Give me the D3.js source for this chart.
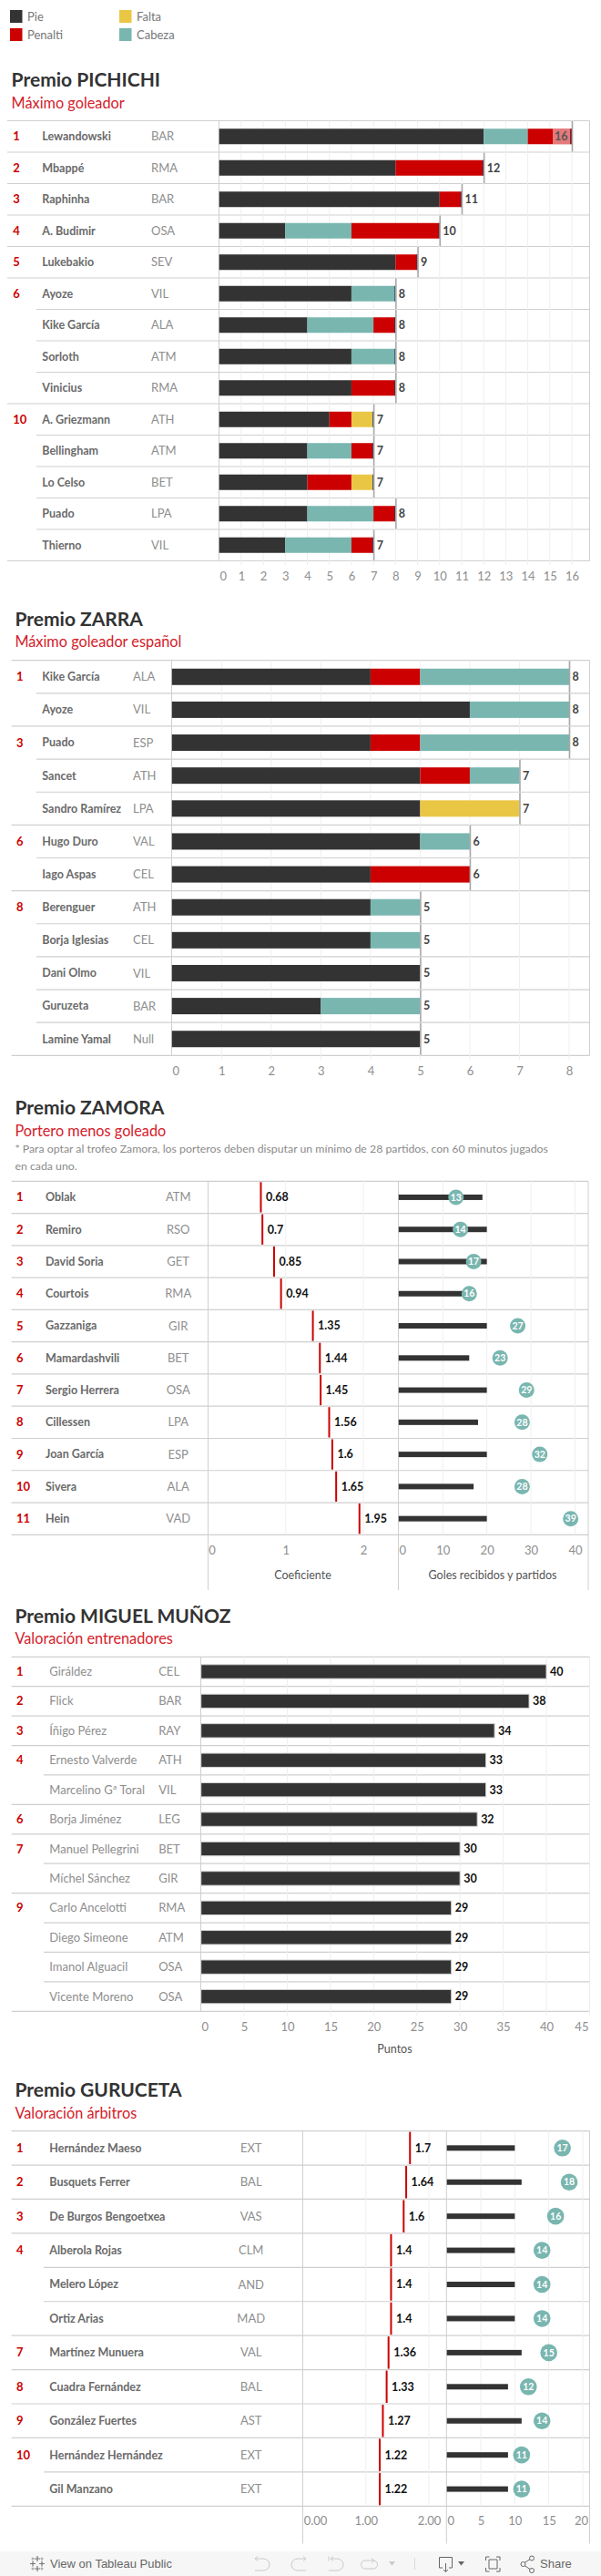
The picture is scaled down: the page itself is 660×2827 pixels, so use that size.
<!DOCTYPE html>
<html><head><meta charset="utf-8">
<script src="https://cdn.jsdelivr.net/npm/d3@7"></script>
<style>html,body{margin:0;padding:0;background:#fff}svg{display:block}text{font-family:Lato,sans-serif}</style>
</head><body><svg id="c" width="660" height="2827"></svg>
<script>
// ---------- DATA ----------
const legendLabels = ["Pie","Penalti","Falta","Cabeza"];
const legendColors = ["#333333","#cc0000","#eac645","#79b6b0"];

const pichichiRanks = ["1","2","3","4","5","6","","","","10","","","",""];
const pichichiNames = ["Lewandowski","Mbappé","Raphinha","A. Budimir","Lukebakio","Ayoze","Kike García","Sorloth","Vinicius","A. Griezmann","Bellingham","Lo Celso","Puado","Thierno"];
const pichichiTeams = ["BAR","RMA","BAR","OSA","SEV","VIL","ALA","ATM","RMA","ATH","ATM","BET","LPA","VIL"];
const pichichiPie     = [12,8,10,3,8,6,4,6,6,5,4,4,4,3];
const pichichiCabeza  = [2,0,0,3,0,2,3,2,0,0,2,0,3,3];
const pichichiPenalti = [2,4,1,4,1,0,1,0,2,1,1,2,1,1];
const pichichiFalta   = [0,0,0,0,0,0,0,0,0,1,0,1,0,0];
const pichichiTicks = [0,1,2,3,4,5,6,7,8,9,10,11,12,13,14,15,16];

const zarraRanks = ["1","","3","","","6","","8","","","",""];
const zarraNames = ["Kike García","Ayoze","Puado","Sancet","Sandro Ramírez","Hugo Duro","Iago Aspas","Berenguer","Borja Iglesias","Dani Olmo","Guruzeta","Lamine Yamal"];
const zarraTeams = ["ALA","VIL","ESP","ATH","LPA","VAL","CEL","ATH","CEL","VIL","BAR","Null"];
const zarraPie     = [4,6,4,5,5,5,4,4,4,5,3,5];
const zarraPenalti = [1,0,1,1,0,0,2,0,0,0,0,0];
const zarraFalta   = [0,0,0,0,2,0,0,0,0,0,0,0];
const zarraCabeza  = [3,2,3,1,0,1,0,1,1,0,2,0];
const zarraTicks = [0,1,2,3,4,5,6,7,8];

const zamoraRanks = ["1","2","3","4","5","6","7","8","9","10","11"];
const zamoraNames = ["Oblak","Remiro","David Soria","Courtois","Gazzaniga","Mamardashvili","Sergio Herrera","Cillessen","Joan García","Sivera","Hein"];
const zamoraTeams = ["ATM","RSO","GET","RMA","GIR","BET","OSA","LPA","ESP","ALA","VAD"];
const zamoraCoef = [0.68,0.7,0.85,0.94,1.35,1.44,1.45,1.56,1.6,1.65,1.95];
const zamoraPartidos = [19,20,20,17,20,16,20,18,20,17,20];
const zamoraGoles = [13,14,17,16,27,23,29,28,32,28,39];
const zamoraCoefTicks = [0,1,2];
const zamoraGolesTicks = [0,10,20,30,40];

const munozRanks = ["1","2","3","4","","6","7","","9","","",""];
const munozNames = ["Giráldez","Flick","Íñigo Pérez","Ernesto Valverde","Marcelino Gª Toral","Borja Jiménez","Manuel Pellegrini","Míchel Sánchez","Carlo Ancelotti","Diego Simeone","Imanol Alguacil","Vicente Moreno"];
const munozTeams = ["CEL","BAR","RAY","ATH","VIL","LEG","BET","GIR","RMA","ATM","OSA","OSA"];
const munozPuntos = [40,38,34,33,33,32,30,30,29,29,29,29];
const munozTicks = [0,5,10,15,20,25,30,35,40,45];

const gurucetaRanks = ["1","2","3","4","","","7","8","9","10",""];
const gurucetaNames = ["Hernández Maeso","Busquets Ferrer","De Burgos Bengoetxea","Alberola Rojas","Melero López","Ortiz Arias","Martínez Munuera","Cuadra Fernández","González Fuertes","Hernández Hernández","Gil Manzano"];
const gurucetaTeams = ["EXT","BAL","VAS","CLM","AND","MAD","VAL","BAL","AST","EXT","EXT"];
const gurucetaCoef = [1.7,1.64,1.6,1.4,1.4,1.4,1.36,1.33,1.27,1.22,1.22];
const gurucetaPartidos = [10,11,10,10,10,10,11,9,11,9,9];
const gurucetaTarjetas = [17,18,16,14,14,14,15,12,14,11,11];
const gurucetaCoefTicks = [0,1,2];
const gurucetaTarjetasTicks = [0,5,10,15,20];

// ---------- HELPERS ----------
const colorOf = Object.fromEntries(legendLabels.map((l,i)=>[l,legendColors[i]]));
const RULE="#cfcfcf", GRID="#efefef", RED="#cc0000", DARK="#333333", TEAL="#79b6b0";
const svg = d3.select("#c");

function txt(g,x,y,s,o={}){
  const t=g.append("text").attr("x",x).attr("y",y).attr("dy",o.dy??"0.35em")
    .attr("text-anchor",o.anchor||"start").attr("fill",o.fill||"#666")
    .attr("font-size",o.size||12).attr("font-weight",o.weight||400).text(s);
  if(o.family) t.style("font-family",o.family);
  return t;
}
function line(g,x1,y1,x2,y2,c,w=1){
  g.append("line").attr("x1",x1).attr("y1",y1).attr("x2",x2).attr("y2",y2).attr("stroke",c).attr("stroke-width",w);
}
function heading(g,x,title,sub,yT,yS){
  txt(g,x,yT,title,{dy:0,size:21,weight:700,fill:"#333"});
  txt(g,x,yS,sub,{dy:0,size:16.3,weight:400,fill:"#d5202a"});
}
// table frame: rows, separators, rank / name / team columns
function table(c){
  const g=svg.append("g");
  const n=c.names.length, y=d3.scaleLinear().domain([0,n]).range([c.top,c.bottom]);
  c.vlines.forEach(v=>line(g,v,c.top,v,c.vEnd,RULE,1));
  for(let i=0;i<=n;i++){
    const full=i===0||i===n||c.ranks[i]!=="";
    line(g,full?c.left:c.inner,y(i),c.right,y(i),RULE,1.2);
  }
  c.names.forEach((nm,i)=>{
    const cy=y(i+.5);
    if(c.ranks[i]) txt(g,c.rankX,cy,c.ranks[i],{fill:RED,weight:700,size:13});
    txt(g,c.nameX,cy,nm,{fill:c.nameFill||"#6a6a6a",weight:c.nameWeight??700,size:c.nameSize||12.5});
    txt(g,c.teamX,cy,c.teams[i],{fill:"#8e8e8e",size:13,anchor:c.teamAnchor||"start",weight:400});
  });
  return {g,y,n};
}
// grid and tick labels through a d3 axis
function axis(g,scale,ticks,y0,y1,labelY,fmt,shift={}){
  ticks.forEach(t=>{ if(scale(t)>scale.range()[0]+1) line(g,scale(t),y0,scale(t),y1,GRID,1); });
  const a=g.append("g").attr("transform",`translate(0,${labelY})`)
    .call(d3.axisBottom(scale).tickValues(ticks).tickSize(0).tickPadding(0).tickFormat(fmt||d3.format("d")));
  a.select(".domain").remove();
  a.selectAll("text").attr("dy","0.35em").attr("y",0).attr("fill","#8e8e8e")
    .attr("font-size",13).attr("font-weight",400).style("font-family","Lato,sans-serif")
    .attr("dx",d=>shift[d]||0);
}
function stacked(c,keys,series,domainMax){
  const {g,y,n}=table(c);
  const x=d3.scaleLinear().domain([0,domainMax]).range([c.x0,c.x1]);
  const h=c.barH;
  axis(g,x,c.ticks,c.top,c.bottom+5,c.tickY,null,{0:4});
  const rows=c.names.map((_,i)=>Object.fromEntries(keys.map(k=>[k,series[k][i]])));
  const st=d3.stack().keys(keys)(rows);
  st.forEach(s=>{
    g.append("g").attr("fill",colorOf[s.key]).selectAll("rect").data(s).join("rect")
      .attr("x",d=>x(d[0])).attr("width",d=>x(d[1])-x(d[0]))
      .attr("y",(d,i)=>y(i+.5)-h/2).attr("height",h);
  });
  rows.forEach((r,i)=>{
    const tot=d3.sum(keys,k=>r[k]), px=x(tot), cy=y(i+.5);
    if(c.sliver) g.append("rect").attr("x",px-1).attr("width",1).attr("y",cy-h/2).attr("height",h).attr("fill","#1d3f66");
    line(g,px+.5,y(i)+.5,px+.5,y(i+1)-.5,"#a9a9a9",1.6);
    if(tot===domainMax && c.inside){
      g.append("rect").attr("x",px-21).attr("y",cy-h/2).attr("width",19).attr("height",h).attr("fill","#fff").attr("fill-opacity",.48);
      txt(g,px-19,cy,tot,{fill:"#555",weight:700,size:12.5});
    } else txt(g,px+3.5,cy,tot,{fill:"#444",weight:700,size:12.5});
  });
}
function coefPanel(c){
  const {g,y}=table(c);
  const xc=d3.scaleLinear().domain([0,2]).range([c.x0,c.x2]);
  const xg=d3.scaleLinear().domain(c.gDomain).range(c.gRange);
  axis(g,xc,c.coefTicks,c.top,c.bottom,c.tickY,c.coefFmt,c.coefShift);
  axis(g,xg,c.gTicks,c.top,c.bottom,c.tickY,null,{0:4,[c.gTicks[c.gTicks.length-1]]:c.gLastShift||0});
  c.coef.forEach((v,i)=>{
    const cy=y(i+.5);
    line(g,xc(v),y(i)+1,xc(v),y(i+1)-1,RED,2);
    txt(g,xc(v)+5.5,cy,v,{fill:"#111",weight:700,size:12.5});
  });
  g.append("g").attr("fill",DARK).selectAll("rect").data(c.bars).join("rect")
    .attr("x",xg(0)).attr("width",d=>xg(d)-xg(0))
    .attr("y",(d,i)=>y(i+.5)-3).attr("height",6);
  const dots=g.selectAll(".dot").data(c.dots).join("g").attr("transform",(d,i)=>`translate(${xg(d)},${y(i+.5)})`);
  dots.append("circle").attr("r",c.r).attr("fill",TEAL);
  dots.append("text").attr("text-anchor","middle").attr("dy","0.35em").attr("fill","#fff")
    .attr("font-size",10.5).attr("font-weight",700).text(d=>d);
  (c.titles||[]).forEach(t=>txt(g,t.x,t.y,t.s,{anchor:"middle",fill:"#555",size:12.5}));
}

// ---------- LEGEND ----------
const lg=svg.append("g");
const lgX=d3.scalePoint().domain([0,1]).range([11,131]);
const lgY=d3.scalePoint().domain([0,1]).range([11,31]);
legendLabels.forEach((l,i)=>{
  const col=i<2?0:1,row=i%2;
  lg.append("rect").attr("x",lgX(col)).attr("y",lgY(row)).attr("width",13.5).attr("height",14).attr("fill",legendColors[i]);
  txt(lg,lgX(col)+19,lgY(row)+7.5,l,{fill:"#777",size:13,weight:400});
});

// ---------- PICHICHI ----------
heading(svg.append("g"),12.6,"Premio PICHICHI","Máximo goleador",95,119);
stacked({names:pichichiNames,teams:pichichiTeams,ranks:pichichiRanks,top:132.5,bottom:615.5,left:8,inner:40,right:647.5,
  rankX:14.3,nameX:46.3,teamX:166,x0:240.7,x1:628,barH:17,ticks:pichichiTicks,tickY:632,vlines:[240.5,647.5],vEnd:615.5,sliver:true,inside:true},
  ["Pie","Cabeza","Penalti","Falta"],{Pie:pichichiPie,Cabeza:pichichiCabeza,Penalti:pichichiPenalti,Falta:pichichiFalta},16);

// ---------- ZARRA ----------
heading(svg.append("g"),16.4,"Premio ZARRA","Máximo goleador español",687,710);
stacked({names:zarraNames,teams:zarraTeams,ranks:zarraRanks,top:724.7,bottom:1158.3,left:12.6,inner:40,right:647.5,
  rankX:18,nameX:46.3,teamX:146,x0:188.8,x1:625,barH:18,ticks:zarraTicks,tickY:1175,vlines:[188.5,647.5],vEnd:1158.3,inside:false},
  ["Pie","Penalti","Falta","Cabeza"],{Pie:zarraPie,Penalti:zarraPenalti,Falta:zarraFalta,Cabeza:zarraCabeza},8);

// ---------- ZAMORA ----------
const gz=svg.append("g");
heading(gz,16.4,"Premio ZAMORA","Portero menos goleado",1223,1247);
txt(gz,16.4,1261,"* Para optar al trofeo Zamora, los porteros deben disputar un mínimo de 28 partidos, con 60 minutos jugados",{fill:"#8a8a8a",size:12.3,weight:400});
txt(gz,16.4,1279.5,"en cada uno.",{fill:"#8a8a8a",size:12.3,weight:400});
coefPanel({names:zamoraNames,teams:zamoraTeams,ranks:zamoraRanks,top:1296.3,bottom:1684.3,left:12.6,inner:12.6,right:646,
  rankX:18,nameX:50,teamX:195.7,teamAnchor:"middle",x0:228.5,x2:399,gDomain:[0,40],gRange:[437.8,631.5],
  coef:zamoraCoef,bars:zamoraPartidos,dots:zamoraGoles,coefTicks:zamoraCoefTicks,gTicks:zamoraGolesTicks,tickY:1701,r:8.5,
  coefShift:{0:4},vlines:[228.5,437.5,646],vEnd:1745,
  titles:[{x:332.5,y:1729,s:"Coeficiente"},{x:541,y:1729,s:"Goles recibidos y partidos"}]});

// ---------- MIGUEL MUÑOZ ----------
{
  heading(svg.append("g"),16.4,"Premio MIGUEL MUÑOZ","Valoración entrenadores",1781,1804);
  const c={names:munozNames,teams:munozTeams,ranks:munozRanks,top:1818.3,bottom:2207.3,left:12.6,inner:48,right:647.5,
    rankX:18,nameX:54.3,teamX:174.2,nameFill:"#8e8e8e",nameWeight:400,nameSize:13,vlines:[220.5,647.5],vEnd:2207.3};
  const {g,y}=table(c);
  const x=d3.scaleLinear().domain([0,45]).range([220.7,647.4]);
  axis(g,x,munozTicks,c.top,c.bottom+5,2224,null,{0:4,45:-9});
  g.append("g").selectAll("rect").data(munozPuntos).join("rect")
    .attr("x",x(0)).attr("width",d=>x(d)-x(0)).attr("y",(d,i)=>y(i+.5)-7.7).attr("height",15.4)
    .attr("fill",DARK).attr("stroke","#d4d4d4").attr("stroke-width",1);
  munozPuntos.forEach((v,i)=>txt(g,x(v)+4,y(i+.5),v,{fill:"#111",weight:700,size:12.5}));
  txt(g,433.5,2249,"Puntos",{anchor:"middle",fill:"#555",size:12.5});
}

// ---------- GURUCETA ----------
heading(svg.append("g"),16.4,"Premio GURUCETA","Valoración árbitros",2301,2324.5);
coefPanel({names:gurucetaNames,teams:gurucetaTeams,ranks:gurucetaRanks,top:2338.6,bottom:2750.3,left:12.6,inner:48,right:647.5,
  rankX:18,nameX:54.3,teamX:275.7,teamAnchor:"middle",x0:332.5,x2:471,gDomain:[0,20],gRange:[490.7,640],
  coef:gurucetaCoef,bars:gurucetaPartidos,dots:gurucetaTarjetas,coefTicks:gurucetaCoefTicks,gTicks:gurucetaTarjetasTicks,tickY:2766.5,r:9.3,
  coefFmt:d3.format(".2f"),coefShift:{0:13.5},gLastShift:-2,vlines:[332.5,490.3,647.5],vEnd:2791.5});

// ---------- TOOLBAR ----------
const tb=svg.append("g");
tb.append("rect").attr("x",0).attr("y",2800).attr("width",660).attr("height",27).attr("fill","#f6f6f6");
const SANS="'Liberation Sans',Arial,sans-serif";
txt(tb,55,2813.5,"View on Tableau Public",{family:SANS,fill:"#666",size:13});
txt(tb,593,2813.5,"Share",{family:SANS,fill:"#666",size:13});
const ic=(d,c,w=1)=>tb.append("path").attr("d",d).attr("fill","none").attr("stroke",c).attr("stroke-width",w);
// Tableau mark
ic("M41 2805v6M38 2808h6M41 2816v6M38 2819h6M33 2813.5h6M36 2810.5v6M43 2813.5h6M46 2810.5v6","#777",1.2);
ic("M36 2806.5v3M34.5 2808h3M46 2806.5v3M44.5 2808h3M36 2817.5v3M34.5 2819h3M46 2817.5v3M44.5 2819h3","#999",1);
const off="#c9c9c9", on="#666";
ic("M281 2808h8a7 6.5 0 0 1 0 13h-9M283 2805.5l-3 2.5 3 2.5",off);
ic("M335 2808h-8a7 6.5 0 0 0 0 13h9M333 2805.5l3 2.5-3 2.5",off);
ic("M361 2805.5v5M363 2808h7a7 6.5 0 0 1 0 13h-9M366 2805.5l-3 2.5 3 2.5",off);
ic("M410 2810h-9a4.5 4.5 0 0 0 0 9h9a4.5 4.5 0 0 0 0-9M408 2807.5l3 2.5-3 2.5",off);
tb.append("path").attr("d","M427 2811h7l-3.5 4.5z").attr("fill",off);
line(tb,455.5,2807,455.5,2820,"#d8d8d8",1);
ic("M486 2818h-3.5v-11.5h14v11.5h-3.5M489.5 2813v9M487 2820l2.5 2.5 2.5-2.5",on);
tb.append("path").attr("d","M503 2811h7l-3.5 4.5z").attr("fill",on);
ic("M533.5 2810v-4h4M545 2806h4v4M549 2818v4h-4M537.5 2822h-4v-4M537 2809h9v10h-9z",on);
ic("M576 2812.5l6-4M576 2815.5l6 4",on);
[[574.5,2814,2.5],[584,2807.5,2.5],[584,2821,2.5]].forEach(p=>tb.append("circle").attr("cx",p[0]).attr("cy",p[1]).attr("r",p[2]).attr("fill","none").attr("stroke",on));
</script></body></html>
